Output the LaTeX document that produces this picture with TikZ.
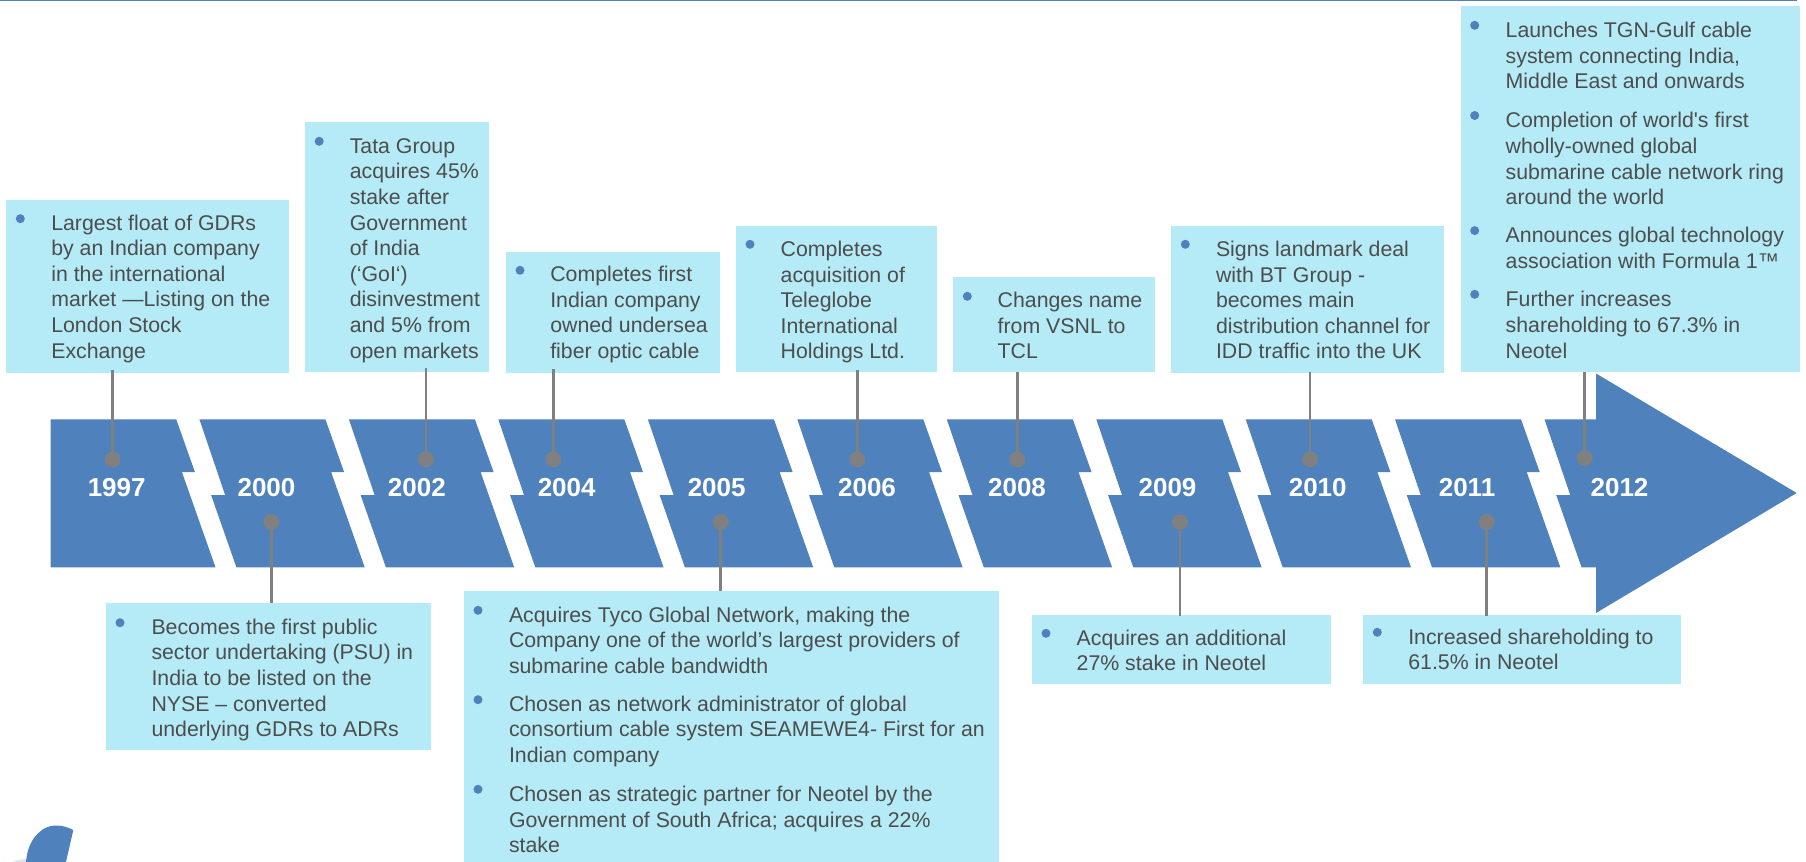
\documentclass[tikz,border=0pt]{standalone}
\usepackage{fontspec}
\setmainfont{Liberation Sans}
\definecolor{bandblue}{HTML}{4F81BD}
\definecolor{boxcyan}{HTML}{B4EBF6}
\definecolor{conngrey}{HTML}{808080}
\definecolor{bodygrey}{HTML}{4D4D4D}
\definecolor{logopale}{HTML}{DCE6F2}
\tikzset{
  band/.style={fill=bandblue},
  tbox/.style={rectangle,fill=boxcyan,anchor=north west,inner sep=0pt,outer sep=0pt},
  txt/.style={anchor=north west,inner sep=0pt,outer sep=0pt,align=left,text=bodygrey,font=\fontsize{21.38}{25.7}\selectfont},
  bul/.style={circle,fill=bandblue,minimum size=9bp,inner sep=0pt,outer sep=0pt},
  pin/.style={circle,fill=conngrey,minimum size=16bp,inner sep=0pt,outer sep=0pt},
  conn/.style={draw=conngrey,line width=2.8bp},
  yearlab/.style={anchor=base,inner sep=0pt,text=white,font=\fontsize{26.1}{30}\selectfont\bfseries}
}
\newcommand\tlseg[1]{\fill[band] (#1,419.3) -- (#1+126,419.3) -- (#1+144.7,472) -- (#1+131.7,472) -- (#1+165.3,567.3) -- (#1+37,567.3) -- (#1+11.7,495) -- (#1+25.7,495) -- cycle;}
\newcommand\tbox[5]{\node[tbox,minimum width=#4 bp,minimum height=#5 bp] (#1) at (#2,#3) {};}
\newcommand\para[4]{\node[txt] (#1) at (#2,#3-16) {\rule{0pt}{16bp}#4};}
\newcommand\yearnode[3]{\node[yearlab] (y#1) at (#2,#3) {#1};}
\begin{document}
\begin{tikzpicture}[x=1bp,y=-1bp]
\useasboundingbox (0,0) rectangle (1806,862);
% top rule
\fill[band] (0,0) rectangle (1797,1.2);
% logo fragment
\fill[logopale] (13,862) .. controls (16,860) and (22,859) .. (27,859) -- (27,862) -- cycle;
\fill[fill=bandblue] (26,862) .. controls (27,850) and (31,838) .. (42,830) .. controls (50,824) and (62,824) .. (73.3,830) -- (66,862) -- cycle;
% band
\fill[band] (50.5,419.3) -- (176.2,419.3) -- (194.9,472) -- (181.9,472) -- (215.5,567.3) -- (50.5,567.3) -- cycle;
\tlseg{199.4}\tlseg{348.9}\tlseg{498.3}\tlseg{647.9}\tlseg{797.3}\tlseg{946.8}\tlseg{1096.3}\tlseg{1245.7}\tlseg{1395}
\fill[band] (1544.5,419.3) -- (1596,419.3) -- (1596,373.5) -- (1796.7,493) -- (1596,613) -- (1596,567.3) -- (1581.5,567.3) -- (1556.2,495) -- (1570.2,495) -- cycle;
% boxes
\tbox{b97}{6}{200}{283}{172.7}
\tbox{b00}{106}{603}{325}{146.7}
\tbox{b02}{305}{122}{184}{249.7}
\tbox{b04}{506}{252}{214}{121}
\tbox{b05}{464}{591}{534.6}{271}
\tbox{b06}{736}{226}{201}{146}
\tbox{b08}{953}{277}{202}{95}
\tbox{b09}{1032}{615}{299}{68.7}
\tbox{b10}{1171}{226}{273}{147}
\tbox{b11}{1363}{615}{318}{68.7}
\tbox{b12}{1461}{6}{339}{365.5}
% pins
\node[pin] (p97) at (112.5,459.3) {};
\node[pin] (p00) at (271.3,522) {};
\node[pin] (p02) at (426,459.3) {};
\node[pin] (p04) at (553.3,459.3) {};
\node[pin] (p05) at (720.7,522) {};
\node[pin] (p06) at (857.3,459.3) {};
\node[pin] (p08) at (1017.3,459.3) {};
\node[pin] (p09) at (1180,522) {};
\node[pin] (p10) at (1310,459.3) {};
\node[pin] (p11) at (1486.7,522) {};
\node[pin] (p12) at (1584.7,458) {};
% connectors
\draw[conn] (p97.center) -- ([yshift=2.7bp]p97 |- b97.south);
\draw[conn] (p00.center) -- (p00 |- b00.north);
\draw[conn] (p02.center) -- ([yshift=4bp]p02 |- b02.south);
\draw[conn] (p04.center) -- ([yshift=4bp]p04 |- b04.south);
\draw[conn] (p05.center) -- (p05 |- b05.north);
\draw[conn] (p06.center) -- ([yshift=2bp]p06 |- b06.south);
\draw[conn] (p08.center) -- (p08 |- b08.south);
\draw[conn] (p09.center) -- ([yshift=-1bp]p09 |- b09.north);
\draw[conn] (p10.center) -- ([yshift=1bp]p10 |- b10.south);
\draw[conn] (p11.center) -- ([yshift=-1bp]p11 |- b11.north);
\draw[conn] (p12.center) -- (p12 |- b12.south);
% years
\yearnode{1997}{116.7}{496.7}
\yearnode{2000}{266.5}{496.7}
\yearnode{2002}{416.8}{496.7}
\yearnode{2004}{566.7}{496.7}
\yearnode{2005}{716.7}{496.7}
\yearnode{2006}{867}{496.7}
\yearnode{2008}{1017}{496.7}
\yearnode{2009}{1167.5}{496.7}
\yearnode{2010}{1317.7}{496.7}
\yearnode{2011}{1467}{496.7}
\yearnode{2012}{1619.5}{496.7}
% bullets and texts
\node[bul] (u97) at (20.3,218.7) {};
\para{t97}{51.3}{230}{Largest float of GDRs\\by an Indian company\\in the international\\market —Listing on the\\London Stock\\Exchange}
\node[bul] (u00) at (120,622.7) {};
\para{t00}{151.5}{634.3}{Becomes the first public\\sector undertaking (PSU) in\\India to be listed on the\\NYSE – converted\\underlying GDRs to ADRs}
\node[bul] (u02) at (319.2,141.3) {};
\para{t02}{349.8}{153.3}{Tata Group\\acquires 45\%\\stake after\\Government\\of India\\(‘GoI‘)\\disinvestment\\and 5\% from\\open markets}
\node[bul] (u04) at (520,270.3) {};
\para{t04}{550.3}{281.7}{Completes first\\Indian company\\owned undersea\\fiber optic cable}
\node[bul] (u05a) at (478,610.3) {};
\para{t05a}{509}{622.3}{Acquires Tyco Global Network, making the\\Company one of the world’s largest providers of\\submarine cable bandwidth}
\node[bul] (u05b) at (478,699.7) {};
\para{t05b}{509}{711}{Chosen as network administrator of global\\consortium cable system SEAMEWE4- First for an\\Indian company}
\node[bul] (u05c) at (478,789.3) {};
\para{t05c}{509}{801.7}{Chosen as strategic partner for Neotel by the\\Government of South Africa; acquires a 22\%\\stake}
\node[bul] (u06) at (750,244.3) {};
\para{t06}{780.7}{256.5}{Completes\\acquisition of\\Teleglobe\\International\\Holdings Ltd.}
\node[bul] (u08) at (967.3,296.3) {};
\para{t08}{997.7}{307.7}{Changes name\\from VSNL to\\TCL}
\node[bul] (u09) at (1046,633.3) {};
\para{t09}{1076.7}{645}{Acquires an additional\\27\% stake in Neotel}
\node[bul] (u10) at (1185.3,244.3) {};
\para{t10}{1216}{256.5}{Signs landmark deal\\with BT Group -\\becomes main\\distribution channel for\\IDD traffic into the UK}
\node[bul] (u11) at (1377.3,632.3) {};
\para{t11}{1408.3}{644}{Increased shareholding to\\61.5\% in Neotel}
\node[bul] (u12a) at (1474.7,25.3) {};
\para{t12a}{1505.7}{37.5}{Launches TGN-Gulf cable\\system connecting India,\\Middle East and onwards}
\node[bul] (u12b) at (1474.7,115.5) {};
\para{t12b}{1505.7}{127.8}{Completion of world\textquotesingle s first\\wholly-owned global\\submarine cable network ring\\around the world}
\node[bul] (u12c) at (1474.7,230.6) {};
\para{t12c}{1505.7}{242.9}{Announces global technology\\association with Formula 1™}
\node[bul] (u12d) at (1474.7,294.3) {};
\para{t12d}{1505.7}{306.9}{Further increases\\shareholding to 67.3\% in\\Neotel}
\end{tikzpicture}
\end{document}
